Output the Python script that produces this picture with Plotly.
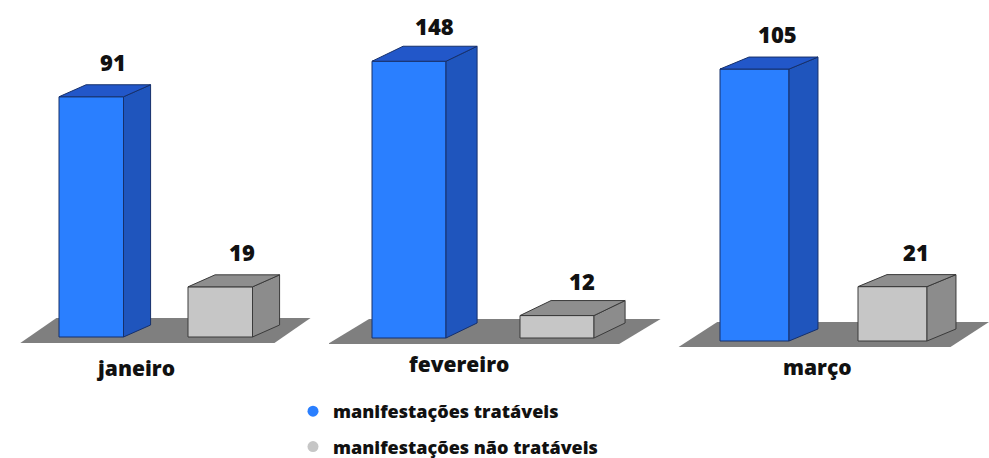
import plotly.graph_objects as go

# Monthly counts of complaints ("manifestações")
months = ["janeiro", "fevereiro", "março"]
treatable = [91, 148, 105]
not_treatable = [19, 12, 21]
series_names = ["manifestações tratáveis", "manifestações não tratáveis"]

W, H = 989, 458
FONT = "Open Sans"

# per-panel pixel layout: domain, first bar left edge, bar spacing,
# baseline, pixels per unit of value, vertical depth of the 3D offset,
# month label position (category units) and its offset below the baseline
panels = [
    dict(dom=(0, 329), x0=59, sp=129, base=337, k=2.64, ddy=12, lab_u=0.59, lab_dy=31),
    dict(dom=(329, 663), x0=372, sp=148, base=338, k=1.87, ddy=15, lab_u=0.59, lab_dy=26),
    dict(dom=(663, 989), x0=720, sp=138, base=341, k=2.59, ddy=12, lab_u=0.71, lab_dy=26),
]

BAR_W = 0.5      # bar width in category units
DEPTH_U = 0.21   # horizontal depth offset in category units

styles = [
    dict(front="#2a7fff", top="#2257c9", side="#1f55bd", line="#16306b"),
    dict(front="#c6c6c6", top="#8e8e8e", side="#8c8c8c", line="#3a3a3a"),
]
FLOOR = "#7f7f7f"

fig = go.Figure()


def poly(xs, ys, color, line, xa, ya, width=1):
    fig.add_trace(go.Scatter(
        x=list(xs) + [xs[0]], y=list(ys) + [ys[0]],
        mode="lines", fill="toself", fillcolor=color,
        line=dict(color=line, width=width),
        hoverinfo="skip", showlegend=False, xaxis=xa, yaxis=ya,
    ))


for p_i, (month, p) in enumerate(zip(months, panels)):
    n = "" if p_i == 0 else str(p_i + 1)
    xa, ya = "x" + n, "y" + n
    dL, dR = p["dom"]
    sp, k = p["sp"], p["k"]
    xrange = [(dL - p["x0"]) / sp, (dR - p["x0"]) / sp]
    yrange = [(p["base"] - H) / k, p["base"] / k]
    ax = dict(domain=[dL / W, dR / W], range=xrange, visible=False,
              fixedrange=True, anchor=ya)
    ay = dict(domain=[0, 1], range=yrange, visible=False, fixedrange=True,
              anchor=xa)
    fig.update_layout({"xaxis" + n: ax, "yaxis" + n: ay})

    dv = p["ddy"] / k
    # floor slab under the pair of bars
    f_front, f_back = -6 / k, 19 / k
    fl, fr, fsh = -0.3, 1 + BAR_W + 0.17, 0.28
    poly([fl, fr, fr + fsh, fl + fsh], [f_front, f_front, f_back, f_back],
         FLOOR, FLOOR, xa, ya, width=0)

    vals = [treatable[p_i], not_treatable[p_i]]
    for i, (v, st) in enumerate(zip(vals, styles)):
        l, r = i, i + BAR_W
        # front face
        poly([l, r, r, l], [0, 0, v, v], st["front"], st["line"], xa, ya)
        # side face
        poly([r, r + DEPTH_U, r + DEPTH_U, r], [0, dv, v + dv, v],
             st["side"], st["line"], xa, ya)
        # top face
        poly([l, r, r + DEPTH_U, l + DEPTH_U], [v, v, v + dv, v + dv],
             st["top"], st["line"], xa, ya)
        fig.add_annotation(x=i + 0.42, y=v, xref=xa, yref=ya,
                           text=str(v), showarrow=False,
                           yshift=35, yanchor="middle",
                           font=dict(family=FONT, size=22, weight=800,
                                     color="#111111"))

    fig.add_annotation(x=p["lab_u"], y=0, xref=xa, yref=ya, text=month,
                       showarrow=False, yshift=-p["lab_dy"], yanchor="middle",
                       font=dict(family=FONT, size=21, weight=800,
                                 color="#111111"))

# legend entries
for name, st in zip(series_names, styles):
    fig.add_trace(go.Scatter(
        x=[None], y=[None], mode="markers", name=name,
        legendgroup=name,
        marker=dict(symbol="circle", size=11, color=st["front"]),
    ))

fig.update_layout(
    width=W, height=H,
    margin=dict(l=0, r=0, t=0, b=0, autoexpand=False),
    paper_bgcolor="white", plot_bgcolor="rgba(0,0,0,0)",
    showlegend=True,
    legend=dict(x=293 / W, y=1 - 393 / H, xanchor="left", yanchor="top",
                orientation="v", tracegroupgap=9, itemwidth=30,
                font=dict(family=FONT, size=18, weight=800, color="#111111"),
                bgcolor="rgba(0,0,0,0)"),
)

fig.write_html("out.html")
